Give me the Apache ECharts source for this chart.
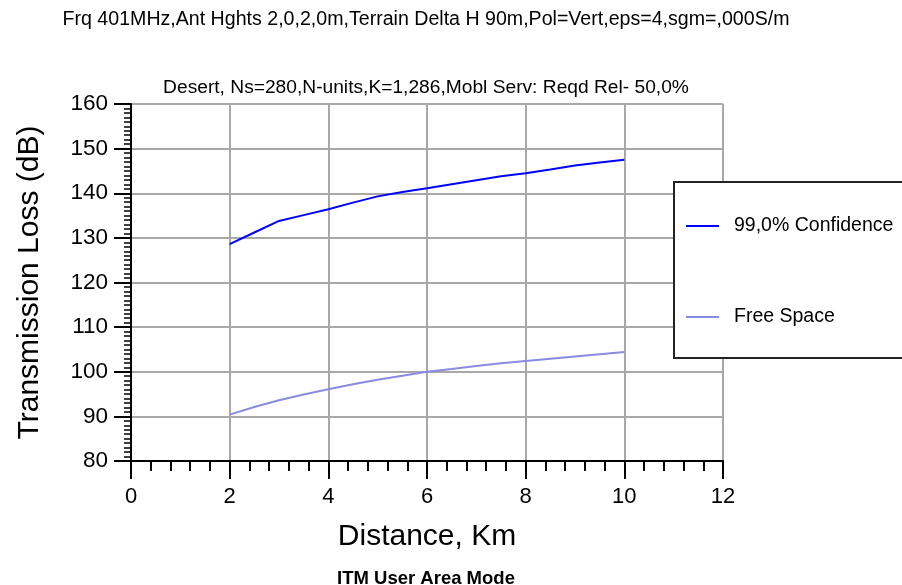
<!DOCTYPE html>
<html>
<head>
<meta charset="utf-8">
<script src="https://cdn.jsdelivr.net/npm/echarts@6/dist/echarts.min.js"></script>
<style>
html,body{margin:0;padding:0;background:#fff;}
#chart{width:902px;height:585px;}
</style>
</head>
<body>
<div id="chart"></div>
<script>
// ---- data ----
const distancesKm = [2, 2.5, 3, 3.5, 4, 4.5, 5, 5.5, 6, 6.5, 7, 7.5, 8, 8.5, 9, 9.5, 10];
const confidence99 = [128.6, 131.2, 133.8, 135.1, 136.4, 137.9, 139.3, 140.3, 141.1, 142.0, 142.9, 143.8, 144.5, 145.3, 146.2, 146.9, 147.5];
const freeSpace = [90.4, 92.1, 93.6, 94.9, 96.1, 97.2, 98.2, 99.1, 100.0, 100.6, 101.3, 101.9, 102.4, 102.9, 103.4, 103.9, 104.4];
const seriesNames = ['99,0% Confidence', 'Free Space'];
const xTickRange = { min: 0, max: 12, interval: 2 };
const yTickRange = { min: 80, max: 160, interval: 10 };
const titleText = 'Frq 401MHz,Ant Hghts 2,0,2,0m,Terrain Delta H 90m,Pol=Vert,eps=4,sgm=,000S/m';
const subtitleText = 'Desert, Ns=280,N-units,K=1,286,Mobl Serv: Reqd Rel- 50,0%';
const captionText = 'ITM User Area Mode';
const xAxisName = 'Distance, Km';
const yAxisName = 'Transmission Loss (dB)';

const FONT = '"Liberation Sans", Arial, sans-serif';
const pairs = (ys) => distancesKm.map((d, i) => [d, ys[i]]);

const chart = echarts.init(document.getElementById('chart'), null, { renderer: 'canvas' });
chart.setOption({
  animation: false,
  backgroundColor: '#ffffff',
  title: [
    { text: titleText, left: 426, top: 10, textAlign: 'center', padding: 0,
      textStyle: { fontFamily: FONT, fontSize: 19.6, fontWeight: 'normal', color: '#000' } },
    { text: subtitleText, left: 426, top: 78, textAlign: 'center', padding: 0,
      textStyle: { fontFamily: FONT, fontSize: 19.2, fontWeight: 'normal', color: '#000' } },
    { text: captionText, left: 426, top: 569, textAlign: 'center', padding: 0,
      textStyle: { fontFamily: FONT, fontSize: 18.5, fontWeight: 'bold', color: '#000' } }
  ],
  grid: { left: 131, right: 179, top: 104, bottom: 124, containLabel: false, outerBoundsMode: 'none' },
  legend: {
    data: seriesNames,
    orient: 'vertical',
    left: 674, top: 182,
    padding: [34, 40, 31, 11],
    itemGap: 71,
    itemWidth: 33, itemHeight: 14,
    backgroundColor: '#ffffff',
    borderColor: '#222222', borderWidth: 2,
    selectedMode: false,
    itemStyle: { color: 'rgba(0,0,0,0)', borderColor: 'rgba(0,0,0,0)', borderWidth: 0 },
    lineStyle: { width: 2 },
    textStyle: { fontFamily: FONT, fontSize: 19.5, color: '#000', lineHeight: 20, padding: [0, 0, 0, 10] }
  },
  xAxis: {
    type: 'value',
    min: xTickRange.min, max: xTickRange.max, interval: xTickRange.interval,
    name: xAxisName, nameLocation: 'middle', nameGap: 61,
    nameTextStyle: { fontFamily: FONT, fontSize: 30, color: '#000' },
    axisLine: { show: true, onZero: false, lineStyle: { color: '#000', width: 2 } },
    axisTick: { show: true, length: 18, lineStyle: { color: '#000', width: 2 } },
    minorTick: { show: true, splitNumber: 5, length: 10, lineStyle: { color: '#000', width: 2 } },
    axisLabel: { fontFamily: FONT, fontSize: 22, color: '#000', margin: 25 },
    splitLine: { show: true, lineStyle: { color: '#a8a8a8', width: 2 } },
    minorSplitLine: { show: false }
  },
  yAxis: {
    type: 'value',
    min: yTickRange.min, max: yTickRange.max, interval: yTickRange.interval,
    name: yAxisName, nameLocation: 'middle', nameGap: 86, nameRotate: 90,
    nameTextStyle: { fontFamily: FONT, fontSize: 30, color: '#000' },
    axisLine: { show: true, onZero: false, lineStyle: { color: '#000', width: 2 } },
    axisTick: { show: true, length: 17, lineStyle: { color: '#000', width: 2 } },
    minorTick: { show: true, splitNumber: 10, length: 7, lineStyle: { color: '#000', width: 1.5 } },
    axisLabel: { fontFamily: FONT, fontSize: 22.5, color: '#000', margin: 23 },
    splitLine: { show: true, lineStyle: { color: '#a8a8a8', width: 2 } },
    minorSplitLine: { show: false }
  },
  series: [
    { name: seriesNames[0], type: 'line', data: pairs(confidence99), symbol: 'none',
      lineStyle: { color: '#0000ff', width: 2 }, itemStyle: { color: '#0000ff' } },
    { name: seriesNames[1], type: 'line', data: pairs(freeSpace), symbol: 'none',
      lineStyle: { color: '#8a8ae0', width: 2 }, itemStyle: { color: '#8a8ae0' } }
  ]
});
</script>
</body>
</html>
